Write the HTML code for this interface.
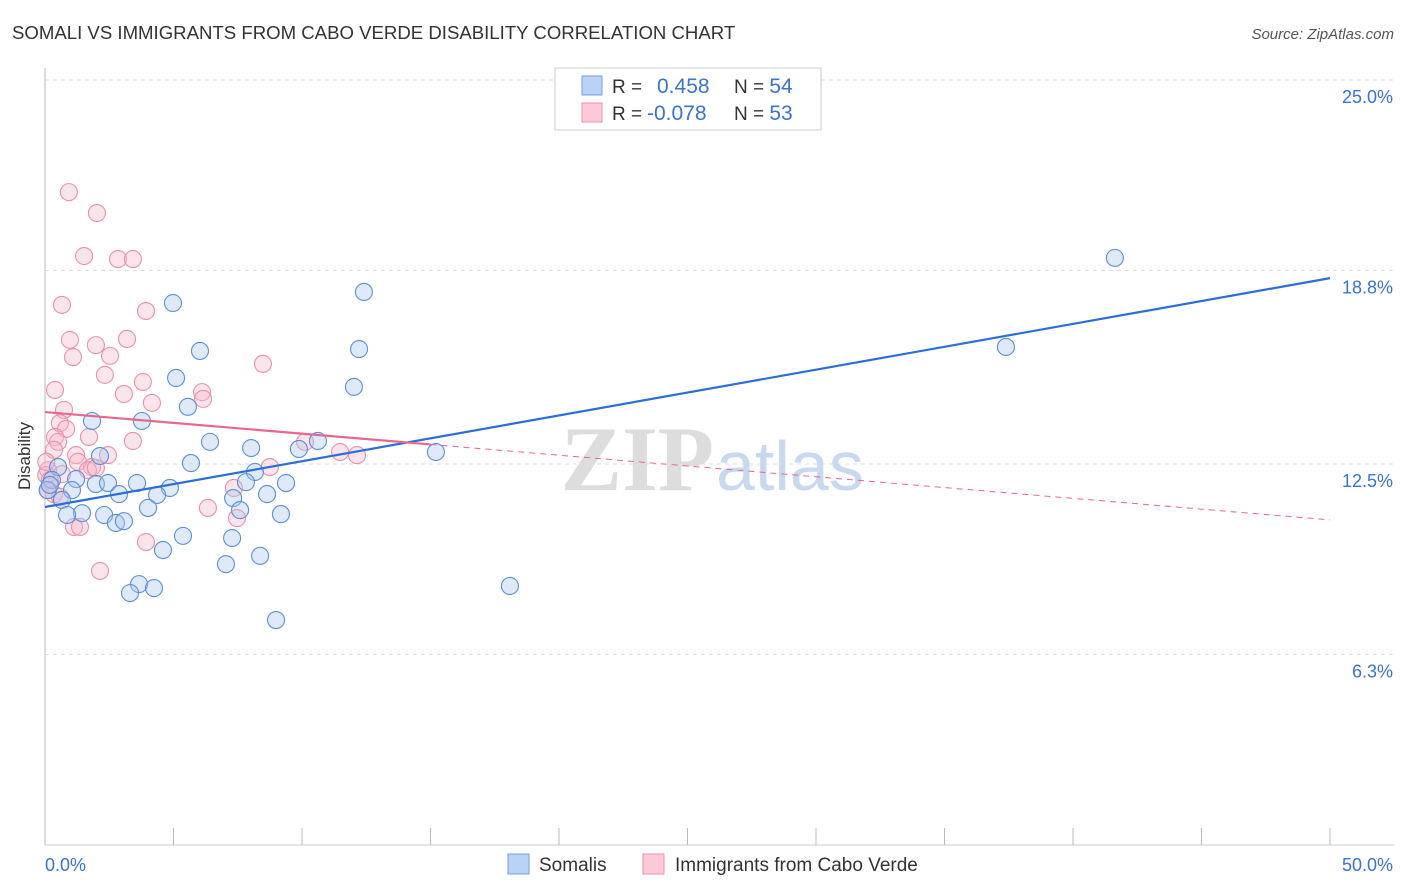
<!DOCTYPE html>
<html><head><meta charset="utf-8"><style>
body{margin:0;background:#fff;font-family:"Liberation Sans",sans-serif;}
svg{display:block}
</style></head><body>
<svg id="chart" width="1406" height="892" xmlns="http://www.w3.org/2000/svg">
<text x="12" y="39" font-size="18.6" fill="#333">SOMALI VS IMMIGRANTS FROM CABO VERDE DISABILITY CORRELATION CHART</text>
<text x="1394" y="39" font-size="15" fill="#555" font-style="italic" text-anchor="end">Source: ZipAtlas.com</text>
<g id="grid"></g>
<text x="714" y="490" font-size="92" fill="#ddd" text-anchor="end" font-family="Liberation Serif,serif" font-weight="bold">ZIP</text>
<text x="716" y="490" font-size="70" fill="#c8d8f0">atlas</text>
<g id="marks"></g>
<text x="30" y="456" font-size="17" fill="#333" text-anchor="middle" transform="rotate(-90 30 456)">Disability</text>
<g>
<rect x="555" y="68" width="266" height="62" fill="#fff" stroke="#ccc"/>
<rect x="582" y="76" width="20" height="19" fill="#b9d3f5" stroke="#6f9fe0"/>
<rect x="582" y="103" width="20" height="19" fill="#fcc9d8" stroke="#ee90ad"/>
<text x="612" y="93" font-size="19" fill="#333">R = <tspan x="657" fill="#3a73d0" font-size="21">0.458</tspan><tspan x="734" fill="#333">N = </tspan><tspan fill="#3a73d0" font-size="21">54</tspan></text>
<text x="612" y="120" font-size="19" fill="#333">R = <tspan x="647" fill="#3a73d0" font-size="21">-0.078</tspan><tspan x="734" fill="#333">N = </tspan><tspan fill="#3a73d0" font-size="21">53</tspan></text>
</g>
<g>
<rect x="508" y="854" width="21" height="20" fill="#b9d3f5" stroke="#6f9fe0"/>
<text x="539" y="871" font-size="19" fill="#333">Somalis</text>
<rect x="643" y="854" width="21" height="20" fill="#fcc9d8" stroke="#ee90ad"/>
<text x="675" y="871" font-size="19" fill="#333">Immigrants from Cabo Verde</text>
</g>
</svg>
<script>
const yTicks=[25,18.8,12.5,6.3];
const yTickLabels=["25.0%","18.8%","12.5%","6.3%"];
const xTickLabels=["0.0%","50.0%"];
const somaliX=[4.98,12.41,41.63,37.39,12.22,6.03,5.10,12.02,5.56,3.77,1.83,6.42,8.02,10.62,9.88,15.21,5.68,0.51,8.17,2.14,1.21,3.58,4.86,7.82,9.38,1.98,2.45,0.27,1.05,2.88,4.36,8.64,7.32,0.66,0.1,4.01,7.59,1.44,0.86,2.30,9.18,2.76,3.07,7.28,5.37,4.59,8.37,7.04,18.09,3.66,4.24,3.31,8.99,0.19];
const somaliY=[17.74,18.10,19.21,16.31,16.24,16.18,15.30,15.01,14.36,13.90,13.90,13.22,13.02,13.25,12.99,12.89,12.53,12.40,12.24,12.76,12.01,11.88,11.72,11.91,11.88,11.85,11.88,11.98,11.65,11.52,11.49,11.52,11.39,11.33,11.65,11.07,11.00,10.90,10.84,10.84,10.87,10.58,10.64,10.09,10.16,9.70,9.51,9.24,8.53,8.59,8.46,8.30,7.42,11.82];
const caboX=[0.93,2.02,1.52,2.84,3.42,0.66,3.93,0.97,3.19,1.98,2.53,1.09,8.48,2.33,3.81,0.39,6.11,6.15,3.07,4.16,0.74,0.58,0.82,0.39,1.71,0.51,3.42,0.35,10.12,11.48,12.14,1.21,2.45,1.28,1.83,1.67,1.98,8.75,0.12,0.66,0.05,7.35,0.35,0.58,0.12,6.34,7.47,1.13,1.36,3.93,2.14,0.05,0.19];
const caboY=[21.35,20.67,19.27,19.17,19.17,17.68,17.48,16.54,16.57,16.37,16.02,15.98,15.76,15.40,15.17,14.91,14.84,14.62,14.78,14.49,14.26,13.83,13.64,13.38,13.38,13.22,13.25,12.96,13.22,12.89,12.79,12.79,12.79,12.57,12.40,12.30,12.37,12.40,12.30,12.17,12.14,11.72,11.52,11.43,11.65,11.07,10.74,10.45,10.45,9.96,9.02,12.57,11.98];
const somaliTrend=[11.10,18.55];
const caboTrend=[14.19,10.68];
const caboSolidEnd=15;
const X0=45,X1=1330,YBOT=848,YTOP=80,TOP=68,BOT=845;
const sx=v=>X0+(v/50)*(X1-X0);
const sy=v=>YBOT-(v/25)*(YBOT-YTOP);
const NS="http://www.w3.org/2000/svg";
const grid=document.getElementById('grid'),marks=document.getElementById('marks');
function mk(tag,attrs,parent){const e=document.createElementNS(NS,tag);for(const k in attrs)e.setAttribute(k,attrs[k]);parent.appendChild(e);return e;}
let e=mk('line',{x1:X0,y1:TOP,x2:X0,y2:BOT,stroke:'#bbb'},grid);


e=mk('line',{x1:X0,y1:BOT,x2:1394,y2:BOT,stroke:'#ccc'},grid);


yTicks.forEach((t,i)=>{
 let g=mk('line',{x1:X0,y1:sy(t),x2:1394,y2:sy(t),stroke:'#ddd','stroke-dasharray':'4,4'},grid);
 
 
 let l=mk('text',{x:1393,y:sy(t)+23,'font-size':18,fill:'#3a73d0','text-anchor':'end'},grid);
 l.textContent=yTickLabels[i];
 
 
});
for(let v=5;v<=50;v+=5){
 let t=mk('line',{x1:sx(v),y1:828,x2:sx(v),y2:BOT,stroke:'#bbb'},grid);
 
 
}
[[0,45,'start'],[50,1393,'end']].forEach((a,i)=>{
 let l=mk('text',{x:a[1],y:871,'font-size':18,fill:'#3a73d0','text-anchor':a[2]},grid);
 l.textContent=xTickLabels[i];
 
 
});
function pts(xs,ys,fill,stroke,name){
 xs.forEach((x,i)=>{
  let c=mk('circle',{cx:sx(x),cy:sy(ys[i]),r:8.5,fill:fill,'fill-opacity':0.38,stroke:stroke,'stroke-width':1.1},marks);
  
  
 });
}
pts(caboX,caboY,'#f8b8cb','#ec8fab','point-cabo-verde');
pts(somaliX,somaliY,'#a9c8f0','#5a8fdc','point-somali');
let tl=mk('line',{x1:sx(0),y1:sy(somaliTrend[0]),x2:sx(50),y2:sy(somaliTrend[1]),stroke:'#2b6fd6','stroke-width':2.2},marks);


const cm=caboTrend[0]+(caboTrend[1]-caboTrend[0])*caboSolidEnd/50;
tl=mk('line',{x1:sx(0),y1:sy(caboTrend[0]),x2:sx(caboSolidEnd),y2:sy(cm),stroke:'#e8668f','stroke-width':2.2},marks);


tl=mk('line',{x1:sx(caboSolidEnd),y1:sy(cm),x2:sx(50),y2:sy(caboTrend[1]),stroke:'#e8668f','stroke-width':1,'stroke-dasharray':'6,5'},marks);


</script>
</body></html>
